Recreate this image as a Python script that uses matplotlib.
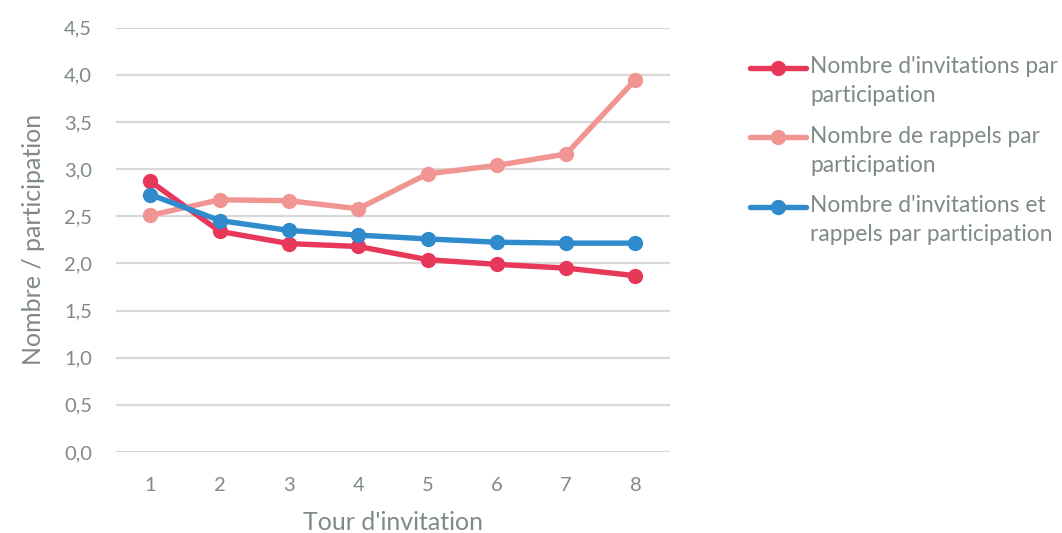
import matplotlib
matplotlib.use("Agg")
import matplotlib.pyplot as plt
from matplotlib.legend_handler import HandlerLine2D

# tours d'invitation et ratios par participation
tours = [1, 2, 3, 4, 5, 6, 7, 8]
invitations = [2.87, 2.34, 2.21, 2.18, 2.04, 1.99, 1.95, 1.87]
rappels = [2.51, 2.675, 2.665, 2.58, 2.95, 3.04, 3.16, 3.95]
invit_rappels = [2.73, 2.455, 2.35, 2.30, 2.26, 2.225, 2.215, 2.215]

labels = ["Nombre d'invitations par\nparticipation",
          "Nombre de rappels par\nparticipation",
          "Nombre d'invitations et\nrappels par participation"]
couleurs = ["#e8385a", "#f19593", "#2f8bcc"]

yticks = [0.0, 0.5, 1.0, 1.5, 2.0, 2.5, 3.0, 3.5, 4.0, 4.5]
ytick_labels = [f"{v:.1f}".replace(".", ",") for v in yticks]

gris = "#7f8a87"
plt.rcParams['font.family'] = ['Lato', 'DejaVu Sans']


class HandlerPremiereLigne(HandlerLine2D):
    """Symbole de légende aligné sur la première ligne du texte."""
    decalage = 10.0  # en points

    def create_artists(self, legend, orig_handle, xdescent, ydescent,
                       width, height, fontsize, trans):
        arts = super().create_artists(legend, orig_handle, xdescent, ydescent,
                                      width, height, fontsize, trans)
        for a in arts:
            a.set_ydata([y + self.decalage for y in a.get_ydata()])
        return arts


fig = plt.figure(figsize=(10.62, 5.33), dpi=100)
ax = fig.add_axes([0.109, 0.152, 0.522, 0.796])

lignes = []
for serie, lab, c in zip([invitations, rappels, invit_rappels], labels, couleurs):
    l, = ax.plot(tours, serie, color=c, lw=3.9, marker="o", markersize=10,
                 label=lab, solid_capstyle="round", zorder=3)
    lignes.append(l)

ax.set_xlim(0.5, 8.5)
ax.set_ylim(0, 4.5)
ax.set_yticks(yticks)
ax.set_yticklabels(ytick_labels)
ax.set_xticks(tours)
ax.grid(axis="y", color="#d9d9d9", lw=1.6)
ax.set_axisbelow(True)
for s in ax.spines.values():
    s.set_visible(False)
ax.tick_params(length=0, labelsize=14.5, labelcolor=gris)
ax.tick_params(axis="y", pad=17)
ax.tick_params(axis="x", pad=18)

ax.set_xlabel("Tour d'invitation", fontsize=18, color=gris, labelpad=12)
ax.set_ylabel("Nombre / participation", fontsize=18, color=gris, labelpad=14)

leg = fig.legend(handles=lignes, loc="upper left", bbox_to_anchor=(0.706, 0.894),
                 frameon=False, fontsize=16.4, handlelength=2.45, handletextpad=0.2,
                 labelspacing=0.87, labelcolor=gris, borderpad=0, borderaxespad=0,
                 handler_map={l: HandlerPremiereLigne() for l in lignes})
for t in leg.get_texts():
    t.set_linespacing(1.45)

fig.savefig("out.png", dpi=100)
